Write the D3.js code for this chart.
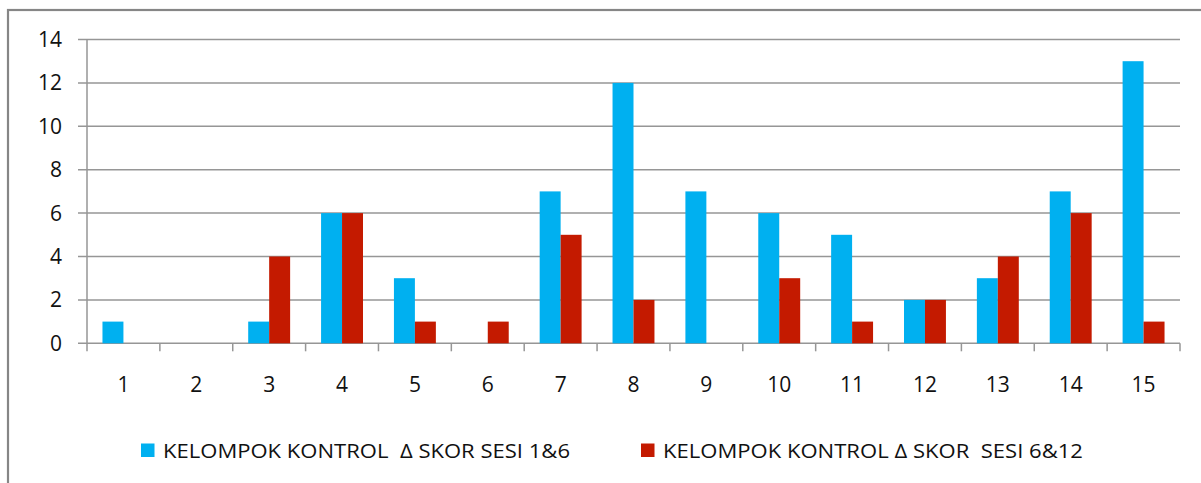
<!DOCTYPE html>
<html>
<head>
<meta charset="utf-8">
<script src="https://cdn.jsdelivr.net/npm/d3@7"></script>
<style>
  html, body { margin: 0; padding: 0; background: #fff; }
  svg { display: block; }
  text { font-family: "Open Sans", "Liberation Sans", sans-serif; fill: #111; white-space: pre; }
</style>
</head>
<body>
<svg id="chart" width="1201" height="483"></svg>
<script>
// Participants 1..15
const categories = ["1","2","3","4","5","6","7","8","9","10","11","12","13","14","15"];
// Score change, sessions 1 & 6
const seriesA = [1, 0, 1, 6, 3, 0, 7, 12, 7, 6, 5, 2, 3, 7, 13];
// Score change, sessions 6 & 12
const seriesB = [0, 0, 4, 6, 1, 1, 5, 2, 0, 3, 1, 2, 4, 6, 1];
const seriesNames = ["KELOMPOK KONTROL  \u0394 SKOR SESI 1&6", "KELOMPOK KONTROL \u0394 SKOR  SESI 6&12"];
const colors = ["#00B0F0", "#C41A00"];
const yTicks = [0, 2, 4, 6, 8, 10, 12, 14];

const svg = d3.select("#chart");

// outer frame
svg.append("rect")
  .attr("x", 8).attr("y", 10)
  .attr("width", 1210).attr("height", 490)
  .attr("fill", "none").attr("stroke", "#868686").attr("stroke-width", 2.2);

const plot = { left: 87, right: 1180, top: 39.5, bottom: 343.3 };

const x0 = d3.scaleBand().domain(categories).range([plot.left, plot.right]).padding(0);
const x1 = d3.scaleBand().domain([0, 1]).range([0, x0.bandwidth()]).paddingInner(0).paddingOuter(0.738);
const y = d3.scaleLinear().domain([0, 14]).range([plot.bottom, plot.top]);

// horizontal gridlines + y tick marks
svg.append("g").selectAll("line").data(yTicks).join("line")
  .attr("x1", plot.left - 9).attr("x2", plot.right)
  .attr("y1", d => y(d)).attr("y2", d => y(d))
  .attr("stroke", "#969696").attr("stroke-width", 1.5);

// y labels
svg.append("g").selectAll("text").data(yTicks).join("text")
  .attr("x", 62).attr("y", d => y(d) + 7.5)
  .attr("text-anchor", "end")
  .attr("font-size", 21)
  .text(d => d);

// y axis line
svg.append("line")
  .attr("x1", plot.left).attr("x2", plot.left)
  .attr("y1", plot.top).attr("y2", plot.bottom + 8)
  .attr("stroke", "#969696").attr("stroke-width", 1.5);

// x tick marks at category boundaries
const bounds = categories.map(c => x0(c)).concat([plot.right]);
svg.append("g").selectAll("line").data(bounds.slice(1)).join("line")
  .attr("x1", d => d).attr("x2", d => d)
  .attr("y1", plot.bottom).attr("y2", plot.bottom + 8)
  .attr("stroke", "#969696").attr("stroke-width", 1.5);

// bars
const rows = categories.map((c, i) => ({ c, vals: [seriesA[i], seriesB[i]] }));
const groups = svg.append("g").selectAll("g").data(rows).join("g")
  .attr("transform", d => `translate(${x0(d.c)},0)`);
groups.selectAll("rect").data(d => d.vals.map((v, k) => ({ v, k }))).join("rect")
  .attr("x", d => x1(d.k))
  .attr("width", x1.bandwidth())
  .attr("y", d => y(d.v))
  .attr("height", d => y(0) - y(d.v))
  .attr("fill", d => colors[d.k]);

// x labels
svg.append("g").selectAll("text").data(categories).join("text")
  .attr("x", d => x0(d) + x0.bandwidth() / 2)
  .attr("y", 392)
  .attr("text-anchor", "middle")
  .attr("font-size", 21)
  .text(d => d);

// legend
const legend = [
  { mx: 141, tx: 163, len: 407 },
  { mx: 641, tx: 663, len: 420 }
];
legend.forEach((l, i) => {
  svg.append("rect")
    .attr("x", l.mx).attr("y", 443.5)
    .attr("width", 13.5).attr("height", 13.5)
    .attr("fill", colors[i]);
  svg.append("text")
    .attr("x", l.tx).attr("y", 458)
    .attr("font-size", 19.5)
    .attr("textLength", l.len)
    .attr("lengthAdjust", "spacingAndGlyphs")
    .text(seriesNames[i]);
});
</script>
</body>
</html>
